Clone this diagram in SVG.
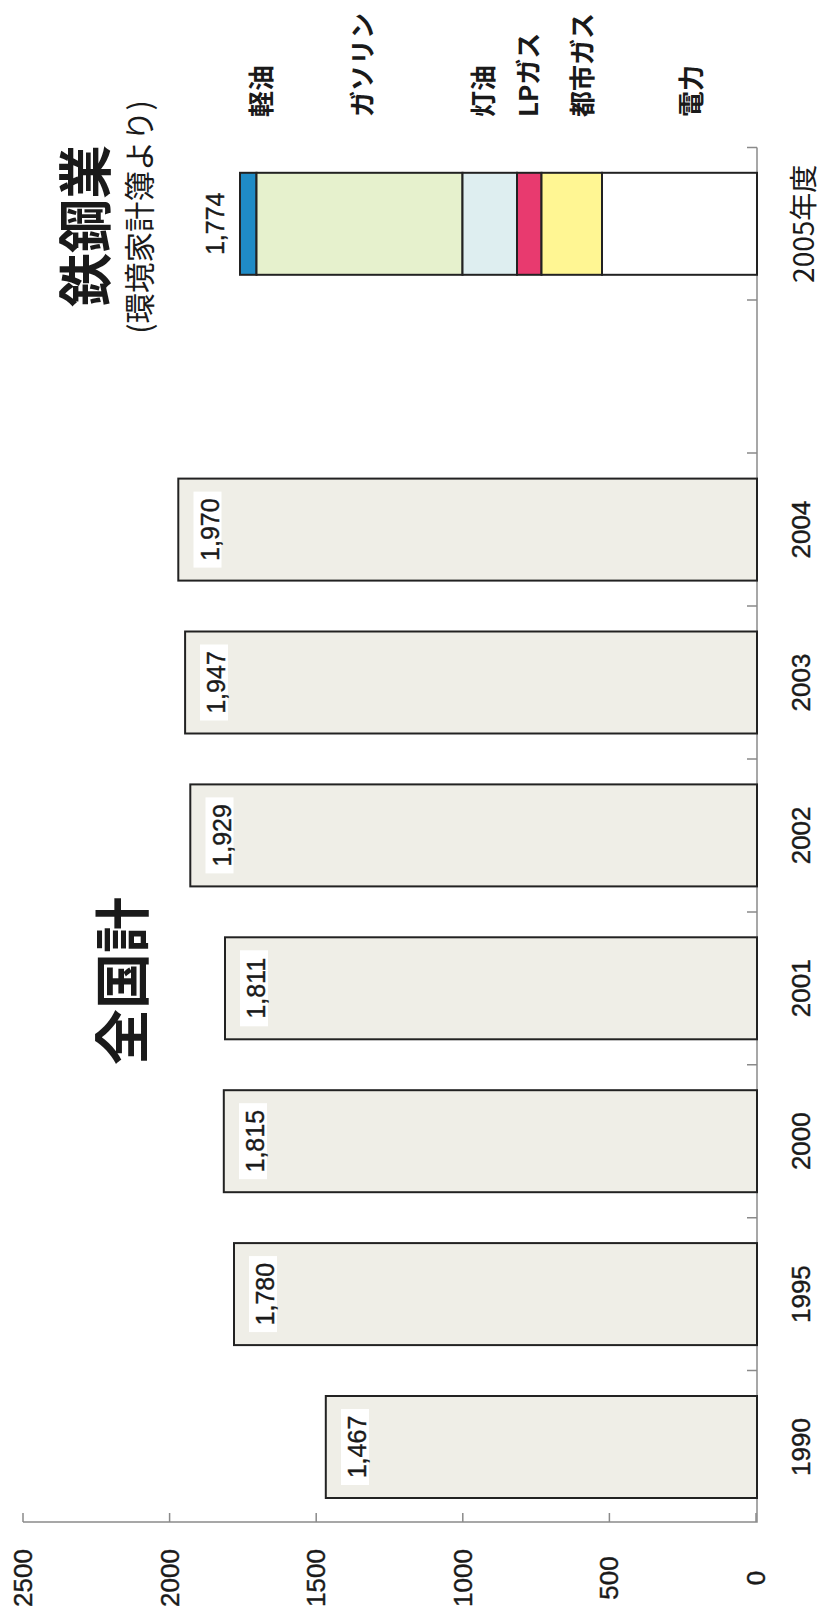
<svg xmlns="http://www.w3.org/2000/svg" width="819" height="1619" viewBox="0 0 819 1619">
<style>
.bar{fill:#efeee7;stroke:#222;stroke-width:2}
.seg{stroke:#222;stroke-width:2}
.ax{stroke:#8a8a8a;stroke-width:1.5;fill:none}
.num{font-family:"Liberation Sans",Arial,sans-serif;font-size:25px;fill:#1a1a1a;stroke:#1a1a1a;stroke-width:0.4}
.yr{font-family:"Liberation Sans",Arial,sans-serif;font-size:26px;fill:#1a1a1a;stroke:#1a1a1a;stroke-width:0.4}
.tk{font-family:"Liberation Sans",Arial,sans-serif;font-size:26px;fill:#1a1a1a;stroke:#1a1a1a;stroke-width:0.4}
.jp{font-family:"Noto Sans CJK JP","Noto Sans",sans-serif;fill:#1a1a1a}
.lbl{fill:#fff}
</style>
<rect width="819" height="1619" fill="#fff"/>

<g id="axes">
<path class="ax" d="M757 147.6V1522H23"/>
<path class="ax" d="M756 1513V1522M609.4 1513V1522M462.8 1513V1522M316.2 1513V1522M169.6 1513V1522M23 1513V1522"/>
<path class="ax" d="M747 1370.6H757M747 1217.7H757M747 1064.8H757M747 911.9H757M747 759H757M747 606H757M747 453H757M747 300H757M747 147.6H757"/>
</g>

<g id="axis-labels">
<text class="tk" text-anchor="middle" transform="translate(32,1578) rotate(-90)">2500</text>
<text class="tk" text-anchor="middle" transform="translate(178.6,1578) rotate(-90)">2000</text>
<text class="tk" text-anchor="middle" transform="translate(325.2,1578) rotate(-90)">1500</text>
<text class="tk" text-anchor="middle" transform="translate(471.8,1578) rotate(-90)">1000</text>
<text class="tk" text-anchor="middle" transform="translate(618.4,1578) rotate(-90)">500</text>
<text class="tk" text-anchor="middle" transform="translate(765,1578) rotate(-90)">0</text>
</g>

<g id="bar-1990">
<rect class="bar" x="325.8" y="1396" width="431.2" height="102"/>
<rect class="lbl" x="341" y="1409" width="28" height="76"/>
<text class="num" text-anchor="middle" transform="translate(366,1447) rotate(-90)">1,467</text>
<text class="yr" text-anchor="middle" transform="translate(810,1447) rotate(-90)">1990</text>
</g>
<g id="bar-1995">
<rect class="bar" x="234" y="1243.1" width="523" height="102"/>
<rect class="lbl" x="249" y="1256.1" width="28" height="76"/>
<text class="num" text-anchor="middle" transform="translate(274,1294.1) rotate(-90)">1,780</text>
<text class="yr" text-anchor="middle" transform="translate(810,1294.1) rotate(-90)">1995</text>
</g>
<g id="bar-2000">
<rect class="bar" x="223.8" y="1090.2" width="533.2" height="102"/>
<rect class="lbl" x="239" y="1103.2" width="28" height="76"/>
<text class="num" text-anchor="middle" transform="translate(264,1141.2) rotate(-90)">1,815</text>
<text class="yr" text-anchor="middle" transform="translate(810,1141.2) rotate(-90)">2000</text>
</g>
<g id="bar-2001">
<rect class="bar" x="225" y="937.3" width="532" height="102"/>
<rect class="lbl" x="240" y="950.3" width="28" height="76"/>
<text class="num" text-anchor="middle" transform="translate(265,988.3) rotate(-90)">1,811</text>
<text class="yr" text-anchor="middle" transform="translate(810,988.3) rotate(-90)">2001</text>
</g>
<g id="bar-2002">
<rect class="bar" x="190.3" y="784.4" width="566.7" height="102"/>
<rect class="lbl" x="205.5" y="797.4" width="28" height="76"/>
<text class="num" text-anchor="middle" transform="translate(230.5,835.4) rotate(-90)">1,929</text>
<text class="yr" text-anchor="middle" transform="translate(810,835.4) rotate(-90)">2002</text>
</g>
<g id="bar-2003">
<rect class="bar" x="185.1" y="631.5" width="571.9" height="102"/>
<rect class="lbl" x="200" y="644.5" width="28" height="76"/>
<text class="num" text-anchor="middle" transform="translate(225,682.5) rotate(-90)">1,947</text>
<text class="yr" text-anchor="middle" transform="translate(810,682.5) rotate(-90)">2003</text>
</g>
<g id="bar-2004">
<rect class="bar" x="178.3" y="478.6" width="578.7" height="102"/>
<rect class="lbl" x="193.5" y="491.6" width="28" height="76"/>
<text class="num" text-anchor="middle" transform="translate(218.5,529.6) rotate(-90)">1,970</text>
<text class="yr" text-anchor="middle" transform="translate(810,529.6) rotate(-90)">2004</text>
</g>

<g id="bar-2005">
<rect class="seg" x="240" y="172.8" width="16.5" height="102" fill="#1f8bc6"/>
<rect class="seg" x="256.5" y="172.8" width="206" height="102" fill="#e6f1cd"/>
<rect class="seg" x="462.5" y="172.8" width="54.5" height="102" fill="#deeef0"/>
<rect class="seg" x="517" y="172.8" width="24.5" height="102" fill="#e83a6f"/>
<rect class="seg" x="541.5" y="172.8" width="60.5" height="102" fill="#fff693"/>
<rect class="seg" x="602" y="172.8" width="155" height="102" fill="#ffffff"/>
<text class="num" text-anchor="middle" transform="translate(224,223.8) rotate(-90)">1,774</text>
<text class="jp" font-size="28" text-anchor="middle" transform="translate(814,223.8) rotate(-90)">2005年度</text>
</g>

<g id="legend">
<text class="jp" font-size="26" font-weight="bold" transform="translate(271,117) rotate(-90)">軽油</text>
<text class="jp" font-size="26" font-weight="bold" transform="translate(372,117) rotate(-90)">ガソリン</text>
<text class="jp" font-size="26" font-weight="bold" transform="translate(493,117) rotate(-90)">灯油</text>
<text class="jp" font-size="26" font-weight="bold" transform="translate(538,117) rotate(-90)">LPガス</text>
<text class="jp" font-size="26" font-weight="bold" transform="translate(592,117) rotate(-90)">都市ガス</text>
<text class="jp" font-size="26" font-weight="bold" transform="translate(701,117) rotate(-90)">電力</text>
</g>

<g id="titles">
<text class="jp" font-size="54" font-weight="bold" text-anchor="middle" transform="translate(105.5,226) rotate(-90)">鉄鋼業</text>
<text class="jp" font-size="30.5" text-anchor="middle" transform="translate(150.5,217) rotate(-90)">(環境家計簿より)</text>
<text class="jp" font-size="56" font-weight="bold" text-anchor="middle" transform="translate(143,981) rotate(-90)">全国計</text>
</g>
</svg>
